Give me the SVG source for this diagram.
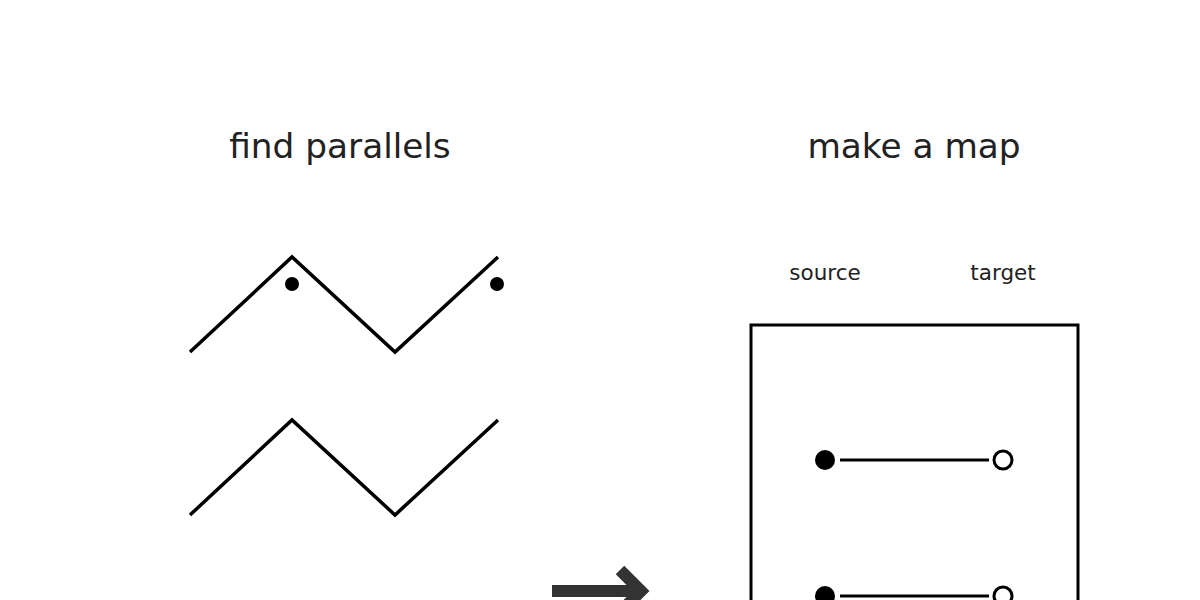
<svg xmlns="http://www.w3.org/2000/svg" width="1200" height="600" viewBox="0 0 1200 600">
<style>
.title{font-family:"DejaVu Sans",sans-serif;font-size:34.3px;fill:#222;text-anchor:middle}
.lbl{font-family:"DejaVu Sans",sans-serif;font-size:21.5px;fill:#222;text-anchor:middle}
.zz{fill:none;stroke:#000;stroke-width:3.5}
.box{fill:none;stroke:#000;stroke-width:3}
.link{stroke:#000;stroke-width:3}
.open{fill:#fff;stroke:#000;stroke-width:3}
</style>
<rect width="1200" height="600" fill="#fff"/>
<text class="title" x="340" y="158">find parallels</text>
<text class="title" x="914" y="158">make a map</text>
<g id="zigzag-top">
<polyline class="zz" points="190,352 292,257 395,352 498,257"/>
<circle cx="292" cy="284" r="7"/>
<circle cx="497" cy="284" r="7"/>
</g>
<g id="zigzag-bottom">
<polyline class="zz" points="190,515 292,420 395,515 498,420"/>
</g>
<g id="arrow">
<line x1="552" y1="591" x2="640" y2="591" stroke="#333" stroke-width="12"/>
<polyline points="620,570 641,591 620,612" fill="none" stroke="#333" stroke-width="12"/>
</g>
<g id="map">
<text class="lbl" x="825" y="280">source</text>
<text class="lbl" x="1003" y="280">target</text>
<rect class="box" x="751" y="325" width="327" height="300"/>
</g>
<g id="connectors">
<line class="link" x1="840" y1="460" x2="989" y2="460"/>
<line class="link" x1="840" y1="596" x2="989" y2="596"/>
</g>
<g id="pair1">
<circle cx="825" cy="460" r="10"/>
<circle class="open" cx="1003" cy="460" r="9"/>
</g>
<g id="pair2">
<circle cx="825" cy="596" r="10"/>
<circle class="open" cx="1003" cy="596" r="9"/>
</g>
</svg>
